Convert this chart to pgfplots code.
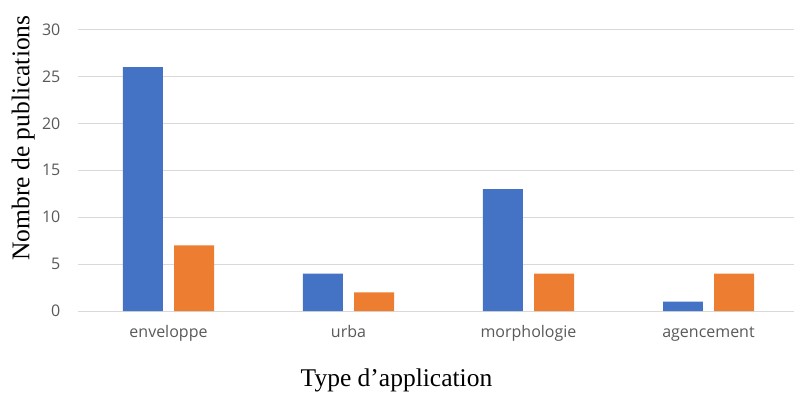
\documentclass[border=0pt]{standalone}
\usepackage{fontspec}
\setmainfont{Liberation Serif}
\newfontfamily\tickfont{Open Sans}
\usepackage{pgfplots}
\pgfplotsset{compat=1.18}
\definecolor{barblue}{HTML}{4472C4}
\definecolor{barorange}{HTML}{ED7D31}
\definecolor{gridgray}{HTML}{D9D9D9}
\definecolor{ticktext}{HTML}{595959}
\begin{document}
\begin{tikzpicture}
\begin{axis}[
 scale only axis, width=715.5pt, height=281.3pt,
 xmin=-0.5, xmax=3.475, ymin=0, ymax=30,
 enlargelimits=false,
 ytick={0,5,...,30}, xtick={0,1,2,3},
 xticklabels={enveloppe,urba,morphologie,agencement},
 axis line style={draw=none}, major tick length=0pt,
 ymajorgrids, grid style={gridgray, line width=1pt},
 ticklabel style={font=\tickfont\fontsize{16}{19}\selectfont, text=ticktext},
 /pgf/number format/assume math mode=true,
 yticklabel style={anchor=east, inner sep=0pt, xshift=-18pt},
 xticklabel style={anchor=base, inner sep=0pt, yshift=-26pt},
 xlabel={Type d’application}, ylabel={Nombre de publications},
 label style={font=\fontsize{25.5}{30}\selectfont},
 xlabel style={at={(axis description cs:0.4444,-0.2666)}, anchor=base},
 ylabel style={at={(axis description cs:-0.0685,0.615)}, anchor=base},
]
\addplot[ybar, bar width=0.2222, bar shift=-0.1417, fill=barblue, draw=none] coordinates {(0,26) (1,4) (2,13) (3,1)};
\addplot[ybar, bar width=0.2222, bar shift=0.1417, fill=barorange, draw=none] coordinates {(0,7) (1,2) (2,4) (3,4)};
\end{axis}
\pgfresetboundingbox
\path[use as bounding box] (-78.5pt,-81pt) rectangle (715.5pt,311pt);
\end{tikzpicture}
\end{document}
